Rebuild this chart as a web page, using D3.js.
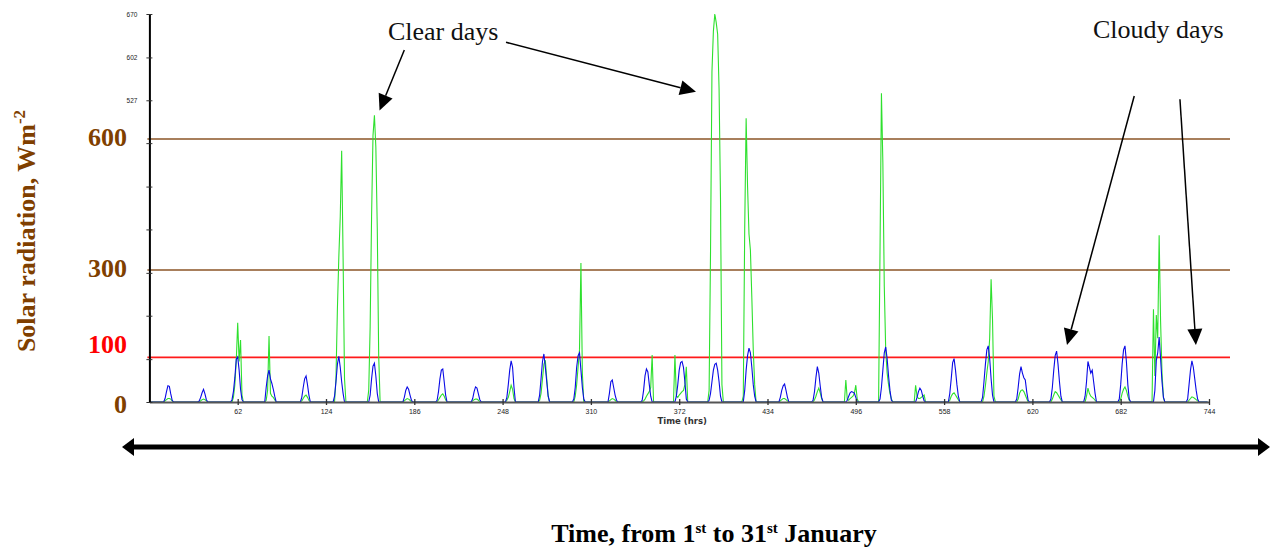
<!DOCTYPE html>
<html>
<head>
<meta charset="utf-8">
<script src="https://cdn.jsdelivr.net/npm/d3@7"></script>
<style>
  body { margin: 0; background: #fff; }
  svg { display: block; }
</style>
</head>
<body>
<svg width="1271" height="556"></svg>
<script>
// local hours of the day that carry light; all other hours are 0
const dayHours = [8, 9, 10, 11, 12, 13, 14, 15, 16, 17, 18]

// blue series, one row per day of January (hours 8..18)
const blueDays = [
  [0, 0, 0, 6, 18, 28, 27, 14, 3, 0, 0],
  [0, 0, 0, 2, 8, 16, 22, 14, 4, 0, 0],
  [0, 0, 4, 18, 42, 74, 78, 55, 22, 4, 0],
  [0, 0, 25, 45, 55, 40, 32, 22, 10, 0, 0],
  [0, 0, 0, 8, 25, 40, 45, 30, 12, 0, 0],
  [0, 0, 10, 35, 65, 79, 60, 35, 15, 0, 0],
  [0, 0, 0, 12, 40, 62, 67, 45, 15, 0, 0],
  [0, 0, 0, 8, 20, 26, 22, 12, 3, 0, 0],
  [0, 0, 3, 18, 40, 55, 57, 35, 12, 0, 0],
  [0, 0, 0, 6, 18, 26, 24, 14, 4, 0, 0],
  [0, 0, 0, 8, 30, 55, 71, 60, 25, 0, 0],
  [0, 0, 12, 40, 70, 83, 60, 35, 10, 0, 0],
  [0, 0, 5, 25, 60, 80, 85, 55, 25, 5, 0],
  [0, 0, 0, 15, 35, 38, 25, 12, 3, 0, 0],
  [0, 0, 3, 20, 45, 57, 52, 30, 10, 0, 0],
  [0, 0, 10, 30, 55, 68, 70, 60, 35, 5, 0],
  [0, 3, 15, 35, 55, 65, 67, 55, 35, 10, 0],
  [0, 0, 20, 55, 80, 93, 85, 60, 30, 10, 0],
  [0, 0, 0, 8, 20, 28, 31, 20, 8, 0, 0],
  [0, 0, 3, 18, 42, 61, 50, 28, 8, 0, 0],
  [0, 0, 3, 10, 16, 18, 17, 15, 8, 0, 0],
  [0, 5, 25, 55, 85, 95, 75, 45, 20, 3, 0],
  [0, 0, 0, 8, 18, 24, 20, 10, 2, 0, 0],
  [0, 0, 15, 40, 68, 75, 55, 30, 10, 0, 0],
  [0, 8, 35, 65, 90, 97, 75, 40, 12, 0, 0],
  [0, 5, 25, 48, 61, 50, 42, 38, 18, 3, 0],
  [0, 5, 25, 55, 80, 88, 65, 35, 10, 0, 0],
  [0, 10, 35, 70, 60, 50, 55, 35, 15, 0, 0],
  [0, 5, 30, 65, 90, 97, 70, 30, 5, 0, 0],
  [0, 0, 20, 72, 85, 112, 75, 35, 8, 0, 0],
  [0, 5, 30, 55, 71, 60, 40, 20, 5, 0, 0]
]

// green series, same layout
const greenDays = [
  [0, 0, 0, 2, 4, 6, 6, 5, 2, 0, 0],
  [0, 0, 0, 0, 2, 4, 5, 4, 2, 0, 0],
  [0, 0, 0, 8, 30, 72, 137, 70, 107, 12, 0],
  [0, 0, 3, 20, 114, 15, 10, 8, 4, 0, 0],
  [0, 0, 0, 2, 6, 10, 12, 8, 3, 0, 0],
  [0, 0, 0, 40, 160, 250, 320, 434, 250, 40, 0],
  [0, 0, 20, 130, 320, 460, 495, 440, 300, 80, 0],
  [0, 0, 0, 2, 4, 6, 5, 3, 0, 0, 0],
  [0, 0, 0, 4, 8, 12, 14, 10, 4, 0, 0],
  [0, 0, 0, 2, 4, 5, 5, 3, 0, 0, 0],
  [0, 0, 0, 3, 8, 18, 29, 22, 6, 0, 0],
  [0, 0, 3, 15, 40, 65, 72, 40, 10, 0, 0],
  [0, 0, 0, 10, 30, 60, 90, 240, 50, 0, 0],
  [0, 0, 0, 2, 4, 6, 5, 3, 0, 0, 0],
  [0, 0, 0, 2, 5, 10, 14, 18, 25, 81, 0],
  [0, 81, 10, 8, 12, 15, 18, 20, 30, 61, 0],
  [0, 20, 260, 570, 640, 670, 655, 635, 540, 350, 30],
  [0, 10, 300, 490, 372, 290, 262, 180, 90, 30, 0],
  [0, 0, 0, 2, 4, 6, 6, 4, 2, 0, 0],
  [0, 0, 0, 4, 10, 18, 24, 16, 6, 0, 0],
  [0, 38, 5, 3, 6, 8, 10, 15, 29, 5, 0],
  [0, 260, 533, 413, 200, 90, 50, 30, 15, 5, 0],
  [0, 0, 29, 10, 6, 6, 8, 10, 12, 0, 0],
  [0, 0, 3, 10, 14, 16, 12, 8, 4, 0, 0],
  [0, 0, 10, 28, 50, 70, 110, 212, 142, 10, 0],
  [0, 0, 5, 15, 20, 21, 18, 12, 6, 0, 0],
  [0, 0, 5, 12, 18, 16, 12, 8, 4, 0, 0],
  [0, 0, 10, 24, 15, 10, 8, 6, 3, 0, 0],
  [0, 0, 5, 15, 22, 26, 20, 10, 3, 0, 0],
  [0, 160, 45, 150, 110, 288, 140, 50, 8, 0, 0],
  [0, 0, 3, 6, 9, 8, 6, 4, 2, 0, 0]
]

const xTicks = [62, 124, 186, 248, 310, 372, 434, 496, 558, 620, 682, 744]
const yTicks = [0, 74, 149, 223, 298, 372, 447, 521, 595, 670]
const yTickLabels = ['', '', '', '', '', '', '', '527', '602', '670']
const refValues = [600, 300, 100]
const refLabels = ['600', '300', '100', '0']
const refLabelValues = [600, 300, 100, 0]

// annotations, in chart units (hours, W/m2)
const notes = [
  { text: 'Clear days', t: 167.5, v: 625 },
  { text: 'Cloudy days', t: 662.5, v: 628.6 }
]
const arrows = [
  [179.0, 607.8, 161.6, 503.4],
  [250.4, 621.1, 383.8, 535.8],
  [691.5, 528.4, 644.3, 98.4],
  [723.6, 522.7, 734.8, 98.4]
]

const svg = d3.select('svg')
const brown = '#7f3f00'
const serif = '"Liberation Serif", "Times New Roman", serif'

const x = d3.scaleLinear().domain([0, 744]).range([149.4, 1209])
const y = d3.scaleLinear().domain([0, 670]).range([402, 14])
const yRef = d3.scaleLinear().domain([0, 600]).range([401, 139]) // the hand drawn overlay scale

// hourly series from the day rows
function hourly(days) {
  const out = []
  days.forEach((row, d) => {
    for (let h = 0; h < 24; h++) {
      const i = dayHours.indexOf(h)
      out.push({ t: d * 24 + h, v: i < 0 ? 0 : row[i] })
    }
  })
  return out
}
const blue = hourly(blueDays)
const green = hourly(greenDays)

// reference lines
svg.append('g').selectAll('line')
  .data(refValues)
  .join('line')
  .attr('x1', x.range()[0] - 2)
  .attr('x2', 1230)
  .attr('y1', d => yRef(d))
  .attr('y2', d => yRef(d))
  .attr('stroke', d => d === 100 ? '#ff1a1a' : '#8b5426')
  .attr('stroke-width', 1.6)

// series
const line = d3.line().x(d => x(d.t)).y(d => y(d.v))
svg.append('path').datum(green)
  .attr('d', line)
  .attr('fill', 'none')
  .attr('stroke', '#2ee02e')
  .attr('stroke-width', 1.1)
svg.append('path').datum(blue)
  .attr('d', line)
  .attr('fill', 'none')
  .attr('stroke', '#0a0ae6')
  .attr('stroke-width', 1.1)

// axes
const xAxis = svg.append('g')
  .attr('transform', `translate(0,${y(0)})`)
  .call(d3.axisBottom(x).tickValues(xTicks).tickSize(3).tickSizeOuter(0).tickPadding(4))
xAxis.select('.domain').attr('stroke', '#555').attr('stroke-width', 2)
xAxis.selectAll('.tick line').attr('y1', -3).attr('stroke', '#333').attr('stroke-width', 1.3)
xAxis.selectAll('.tick text')
  .style('font', '7px "Liberation Sans", Arial, sans-serif')
  .attr('fill', '#222')

const yAxis = svg.append('g')
  .attr('transform', `translate(${x.range()[0]},0)`)
  .call(d3.axisLeft(y).tickValues(yTicks).tickSize(3).tickSizeOuter(0).tickPadding(9)
    .tickFormat((d, i) => yTickLabels[i]))
yAxis.select('.domain').attr('stroke', '#000').attr('stroke-width', 2)
yAxis.selectAll('.tick line').attr('x1', 3).attr('stroke', '#333')
yAxis.selectAll('.tick text')
  .style('font', '6.5px "Liberation Sans", Arial, sans-serif')
  .attr('fill', '#222')

svg.append('text')
  .attr('x', (x.range()[0] + x.range()[1]) / 2 + 3)
  .attr('y', 424)
  .attr('text-anchor', 'middle')
  .style('font', 'bold 8.5px "DejaVu Sans", Verdana, sans-serif')
  .attr('fill', '#333')
  .text('Time (hrs)')

// overlay labels on the left
svg.append('g').selectAll('text')
  .data(refLabelValues)
  .join('text')
  .attr('x', 127)
  .attr('y', d => yRef(d))
  .attr('dy', d => d === 100 ? -4 : (d === 0 ? 12 : 7))
  .attr('text-anchor', 'end')
  .attr('fill', d => d === 100 ? '#ff0000' : brown)
  .style('font', `bold 26px ${serif}`)
  .text((d, i) => refLabels[i])

const yTitle = svg.append('text')
  .attr('transform', 'translate(35,231) rotate(-90)')
  .attr('text-anchor', 'middle')
  .attr('fill', brown)
  .style('font', `bold 26px ${serif}`)
yTitle.append('tspan').text('Solar radiation, Wm')
yTitle.append('tspan').attr('dy', -10).style('font-size', '17px').text('-2')

// notes and arrows
svg.append('g').selectAll('text')
  .data(notes)
  .join('text')
  .attr('x', d => x(d.t))
  .attr('y', d => y(d.v))
  .attr('fill', '#111')
  .style('font', `26px ${serif}`)
  .text(d => d.text)

function arrowHead(g, x1, y1, x2, y2, len, half) {
  const a = Math.atan2(y2 - y1, x2 - x1)
  const bx = x2 - len * Math.cos(a), by = y2 - len * Math.sin(a)
  const px = -Math.sin(a) * half, py = Math.cos(a) * half
  g.append('path')
    .attr('d', `M${x2},${y2}L${bx + px},${by + py}L${bx - px},${by - py}Z`)
    .attr('fill', '#000')
  return [bx, by]
}

const ag = svg.append('g')
arrows.forEach(([t1, v1, t2, v2]) => {
  const x1 = x(t1), y1 = y(v1), x2 = x(t2), y2 = y(v2)
  const [bx, by] = arrowHead(ag, x1, y1, x2, y2, 16, 7.5)
  ag.append('line')
    .attr('x1', x1).attr('y1', y1)
    .attr('x2', bx).attr('y2', by)
    .attr('stroke', '#000')
    .attr('stroke-width', 1.5)
})

// long time arrow under the chart
const tg = svg.append('g')
tg.append('line')
  .attr('x1', 130).attr('x2', 1262)
  .attr('y1', 447).attr('y2', 447)
  .attr('stroke', '#000')
  .attr('stroke-width', 5)
arrowHead(tg, 1262, 447, 122, 447, 12, 9)
arrowHead(tg, 130, 447, 1270, 447, 12, 9)

const title = svg.append('text')
  .attr('x', 714)
  .attr('y', 542)
  .attr('text-anchor', 'middle')
  .attr('fill', '#000')
  .style('font', `bold 26px ${serif}`)
title.append('tspan').text('Time, from 1')
title.append('tspan').attr('dy', -9).style('font-size', '15px').text('st')
title.append('tspan').attr('dy', 9).text(' to 31')
title.append('tspan').attr('dy', -9).style('font-size', '15px').text('st')
title.append('tspan').attr('dy', 9).text(' January')
</script>
</body>
</html>
